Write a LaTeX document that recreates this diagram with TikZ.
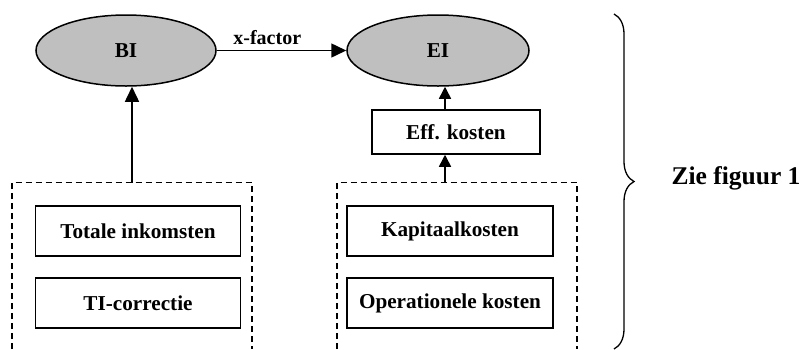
\documentclass[tikz,border=0pt]{standalone}
\usepackage{fontspec}
\setmainfont{Liberation Serif}
\usetikzlibrary{shapes.geometric,arrows.meta,decorations.pathreplacing}
\begin{document}
\begin{tikzpicture}[x=1pt,y=-1pt,
  every node/.style={font=\fontsize{21.2}{25}\selectfont\bfseries},
  oval/.style={ellipse,draw,line width=1.5pt,fill=black!25,minimum width=180pt,minimum height=71pt,inner sep=0pt},
  box/.style={rectangle,draw,line width=1.5pt,inner sep=0pt},
  grp/.style={dashed,dash pattern=on 6pt off 4pt,line width=1.3pt},
  arr/.style={line width=1.5pt,-{Triangle[length=15pt,width=14pt]}},
  sarr/.style={line width=1.5pt,-{Triangle[length=12pt,width=12pt]}}]
\useasboundingbox (0,0) rectangle (805,349);
\node[oval] (BI) at (126,50.5) {BI};
\node[oval,minimum width=182pt] (EI) at (438,50.5) {EI};
\node[box,minimum width=168pt,minimum height=44pt] (eff) at (456,132) {Eff. kosten};
\node[box,minimum width=205pt,minimum height=50pt] (ti) at (138,231) {Totale inkomsten};
\node[box,minimum width=205pt,minimum height=50pt] (tic) at (138,303) {TI-correctie};
\node[box,minimum width=206pt,minimum height=50pt] (kap) at (450,231) {Kapitaalkosten};
\node[box,minimum width=206pt,minimum height=50pt] (ope) at (450,303) {Operationele kosten};
\node[font=\fontsize{25.5}{30}\selectfont\bfseries] (zie) at (736,178) {Zie figuur 1};
% dashed groups (open at the bottom)
\coordinate (lbtop) at (132,182.7);
\coordinate (rbtop) at (445,182.7);
\draw[grp] (12,349) -- (12,182.7) -- (252,182.7) -- (252,349);
\draw[grp] (337,349) -- (337,182.7) -- (577,182.7) -- (577,349);
% connectors
\draw[arr] (BI.east) -- node[pos=0.39,above=5pt,inner sep=0pt,font=\fontsize{20}{24}\selectfont\bfseries] {x-factor} (EI.west);
\draw[arr] (lbtop) -- (lbtop |- BI.south);
\draw[sarr] (rbtop) -- (rbtop |- eff.south);
\draw[sarr] (rbtop |- eff.north) -- (rbtop |- EI.south);
% brace
\draw[line width=1.3pt,decorate,decoration={brace,amplitude=20pt,aspect=0.5}] (614,14) -- (614,349);
\end{tikzpicture}
\end{document}
